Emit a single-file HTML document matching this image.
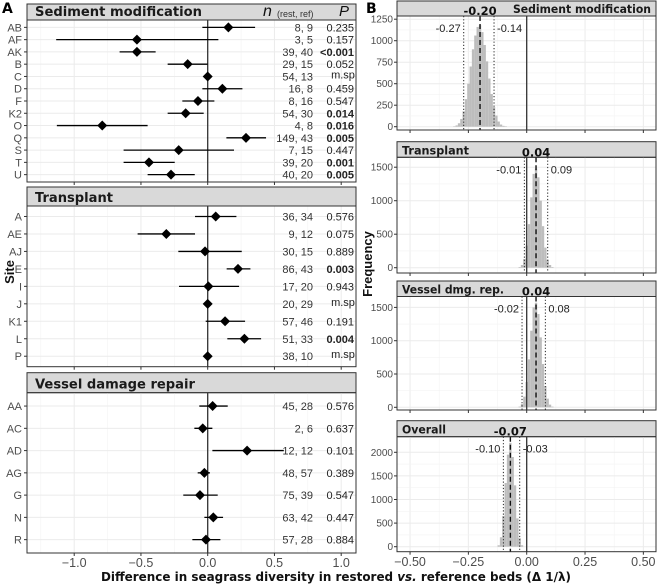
<!DOCTYPE html>
<html><head><meta charset="utf-8"><style>
body{margin:0;background:#fff}
svg{display:block;font-family:"Liberation Sans","DejaVu Sans",sans-serif}
.dv{font-family:"DejaVu Sans","Liberation Sans",sans-serif}
</style></head><body>
<svg id="c" width="657" height="585" viewBox="0 0 657 585" xmlns="http://www.w3.org/2000/svg"></svg>
<script>
// ---- Panel A data ----
const sedSites=["AB","AF","AK","B","C","D","F","K2","O","Q","S","T","U"];
const sedEst=[0.155,-0.53,-0.53,-0.15,0,0.11,-0.073,-0.165,-0.79,0.287,-0.217,-0.44,-0.275];
const sedLo=[-0.04,-1.135,-0.66,-0.30,null,-0.04,-0.19,-0.30,-1.13,0.14,-0.63,-0.63,-0.45];
const sedHi=[0.355,0.08,-0.39,0.0,null,0.26,0.05,-0.03,-0.45,0.437,0.197,-0.247,-0.097];
const sedN=["8,  9","3,  5","39, 40","29, 15","54, 13","16,  8","8, 16","54, 30","4,  8","149, 43","7, 15","39, 20","40, 20"];
const sedP=["0.235","0.157","<0.001","0.052","m.sp","0.459","0.547","0.014","0.016","0.005","0.447","0.001","0.005"];
const sedBold=[0,0,1,0,0,0,0,1,1,1,0,1,1];
const traSites=["A","AE","AJ","E","I","J","K1","L","P"];
const traEst=[0.06,-0.31,-0.02,0.227,0.005,0,0.13,0.275,0];
const traLo=[-0.095,-0.525,-0.22,0.142,-0.215,null,-0.015,0.147,null];
const traHi=[0.215,-0.095,0.255,0.32,0.235,null,0.28,0.40,null];
const traN=["36, 34","9, 12","30, 15","86, 43","17, 20","20, 29","57, 46","51, 33","38, 10"];
const traP=["0.576","0.075","0.889","0.003","0.943","m.sp","0.191","0.004","m.sp"];
const traBold=[0,0,0,1,0,0,0,1,0];
const vesSites=["AA","AC","AD","AG","G","N","R"];
const vesEst=[0.037,-0.037,0.295,-0.025,-0.058,0.042,-0.013];
const vesLo=[-0.063,-0.10,0.035,-0.075,-0.183,-0.025,-0.115];
const vesHi=[0.15,0.035,0.57,0.017,0.075,0.115,0.095];
const vesN=["45, 28","2,  6","12, 12","48, 57","75, 39","63, 42","57, 28"];
const vesP=["0.576","0.637","0.101","0.389","0.547","0.447","0.884"];
const vesBold=[0,0,0,0,0,0,0];
const xTicksA=[-1.0,-0.5,0.0,0.5,1.0];
const xTickLabelsA=["\u22121.0","\u22120.5","0.0","0.5","1.0"];
// ---- Panel B data (bin width 0.01) ----
const h1Start=-0.31;
const h1Counts=[5,15,40,90,180,320,500,700,900,1060,1160,1180,1100,950,760,560,380,230,130,60,25,10,5];
const h2Start=-0.03;
const h2Counts=[10,40,130,330,650,1050,1400,1480,1350,1000,620,300,120,40,10];
const h3Start=-0.03;
const h3Counts=[10,50,160,380,720,1150,1500,1570,1400,1050,650,320,130,40,10];
const h4Start=-0.12;
const h4Counts=[30,200,650,1350,1950,2200,1900,1300,600,180,30];
const hMeans=[-0.20,0.04,0.04,-0.07];
const hLo=[-0.27,-0.01,-0.02,-0.10];
const hHi=[-0.14,0.09,0.08,-0.03];
const hMeanLbl=["-0.20","0.04","0.04","-0.07"];
const hLoLbl=["-0.27","-0.01","-0.02","-0.10"];
const hHiLbl=["-0.14","0.09","0.08","-0.03"];
const xTicksB=[-0.5,-0.25,0,0.25,0.5];
const xTickLabelsB=["\u22120.50","\u22120.25","0.00","0.25","0.50"];

const svg=document.getElementById('c');
const NS="http://www.w3.org/2000/svg";
function el(t,a,txt){const e=document.createElementNS(NS,t);for(const k in a)e.setAttribute(k,a[k]);if(txt!==undefined)e.textContent=txt;svg.appendChild(e);return e;}

// ---- Panel A ----
const ax=v=>207.7+v*133.5;
const AX0=27,AX1=356;
const panelsA=[
 {title:"Sediment modification",tl:167,st:4,pt:20,pb:182,sites:sedSites,est:sedEst,lo:sedLo,hi:sedHi,n:sedN,p:sedP,b:sedBold,key:"sediment"},
 {title:"Transplant",tl:78,st:187,pt:206,pb:366.7,sites:traSites,est:traEst,lo:traLo,hi:traHi,n:traN,p:traP,b:traBold,key:"transplant"},
 {title:"Vessel damage repair",tl:160,st:372.7,pt:392.7,pb:553,sites:vesSites,est:vesEst,lo:vesLo,hi:vesHi,n:vesN,p:vesP,b:vesBold,key:"vessel"}];
panelsA.forEach((P,pi)=>{
 let r=el('rect',{x:AX0,y:P.st,width:AX1-AX0,height:P.pt-P.st,fill:'#d9d9d9',stroke:'#333','stroke-width':1});
 
 let t=el('text',{class:'dv',x:35,y:P.pt-4,'font-size':13,'font-weight':'bold',fill:'#1a1a1a',textLength:P.tl,lengthAdjust:'spacingAndGlyphs'},P.title);
 
 const step=(P.pb-P.pt)/(P.sites.length-1+1.2);
 const ry=i=>P.pt+(0.6+i)*step;
 [-1.25,-0.75,-0.25,0.25,0.75].forEach(v=>el('line',{x1:ax(v),x2:ax(v),y1:P.pt,y2:P.pb,stroke:'#f3f3f3','stroke-width':0.6}));
 xTicksA.forEach(v=>el('line',{x1:ax(v),x2:ax(v),y1:P.pt,y2:P.pb,stroke:'#ebebeb','stroke-width':1}));
 P.sites.forEach((s,i)=>{el('line',{x1:AX0,x2:AX1,y1:ry(i),y2:ry(i),stroke:'#ebebeb','stroke-width':1});});
 el('line',{x1:ax(0),x2:ax(0),y1:P.pt,y2:P.pb,stroke:'#333','stroke-width':1.3});
 P.sites.forEach((s,i)=>{
  const y=ry(i);
  el('line',{x1:AX0-3,x2:AX0,y1:y,y2:y,stroke:'#333'});
  let lb=el('text',{x:AX0-5,y:y+4,'font-size':11,fill:'#4d4d4d','text-anchor':'end'},s);
  
  if(P.lo[i]!==null){let e=el('line',{x1:ax(P.lo[i]),x2:ax(P.hi[i]),y1:y,y2:y,stroke:'#000','stroke-width':1.3});
   }
  const cx=ax(P.est[i]);
  let d=el('path',{d:`M${cx} ${y-5}L${cx+5} ${y}L${cx} ${y+5}L${cx-5} ${y}Z`,fill:'#000'});
  
  let nt=el('text',{x:313,y:y+4,'font-size':11,fill:'#333','text-anchor':'end','xml:space':'preserve'},P.n[i]);
  
  let pt=el('text',{x:P.p[i]==='m.sp'?343:354,y:y+(P.p[i]==='m.sp'?2:4),'font-size':11,fill:'#222','text-anchor':P.p[i]==='m.sp'?'middle':'end','font-weight':P.b[i]?'bold':'normal'},P.p[i]);
  
 });
 el('rect',{x:AX0,y:P.pt,width:AX1-AX0,height:P.pb-P.pt,fill:'none',stroke:'#333','stroke-width':1});
 xTicksA.forEach(v=>el('line',{x1:ax(v),x2:ax(v),y1:P.pb,y2:P.pb+3,stroke:'#333'}));
});
let hn=el('text',{x:263,y:16,'font-size':16,'font-style':'italic',fill:'#111'},'n');
el('text',{x:277,y:17,'font-size':9,fill:'#333'},'(rest, ref)');
let hp=el('text',{x:339,y:16,'font-size':15,'font-style':'italic',fill:'#111'},'P');
xTicksA.forEach((v,i)=>{let t=el('text',{x:ax(v),y:567,'font-size':12.5,fill:'#4d4d4d','text-anchor':'middle'},xTickLabelsA[i]);
 });
let st=el('text',{x:0,y:0,'font-size':13,'font-weight':'bold',fill:'#111','text-anchor':'middle',transform:'translate(14,272) rotate(-90)'},'Site');

let la=el('text',{class:'dv',x:2,y:13,'font-size':14,'font-weight':'bold'},'A');

// ---- Panel B ----
const bx=v=>526.7+v*233.3;
const BX0=397,BX1=656;
const panelsB=[
 {title:"Sediment modification",tl:138,right:true,st:1,pt:16,pb:130,y0:126.7,k:21.5/250,ticks:[0,250,500,750,1000,1250],counts:h1Counts,start:h1Start,key:"hist-sediment"},
 {title:"Transplant",tl:67,st:141.7,pt:157.3,pb:273,y0:267.7,k:33.5/500,ticks:[0,500,1000,1500],counts:h2Counts,start:h2Start,key:"hist-transplant"},
 {title:"Vessel dmg. rep.",tl:102,st:281,pt:296.5,pb:410,y0:407.3,k:33.3/500,ticks:[0,500,1000,1500],counts:h3Counts,start:h3Start,key:"hist-vessel"},
 {title:"Overall",tl:44,st:420.7,pt:436.7,pb:551.7,y0:546.7,k:23.6/500,ticks:[0,500,1000,1500,2000],counts:h4Counts,start:h4Start,key:"hist-overall"}];
panelsB.forEach((P,pi)=>{
 const yv=c=>P.y0-c*P.k;
 let r=el('rect',{x:BX0,y:P.st,width:BX1-BX0,height:P.pt-P.st,fill:'#d9d9d9',stroke:'#333','stroke-width':1});
 
 let t=el('text',{class:'dv',x:P.right?651-P.tl:402,y:P.pt-3,'font-size':11.5,'font-weight':'bold',fill:'#1a1a1a',textLength:P.tl,lengthAdjust:'spacingAndGlyphs'},P.title);
 
 [-0.375,-0.125,0.125,0.375].forEach(v=>el('line',{x1:bx(v),x2:bx(v),y1:P.pt,y2:P.pb,stroke:'#f3f3f3','stroke-width':0.6}));
 xTicksB.forEach(v=>el('line',{x1:bx(v),x2:bx(v),y1:P.pt,y2:P.pb,stroke:'#ebebeb'}));
 P.ticks.forEach((v,i)=>{
  el('line',{x1:BX0,x2:BX1,y1:yv(v),y2:yv(v),stroke:'#ebebeb'});
  if(i<P.ticks.length-1){const m=(v+P.ticks[i+1])/2;el('line',{x1:BX0,x2:BX1,y1:yv(m),y2:yv(m),stroke:'#f3f3f3','stroke-width':0.6});}
  el('line',{x1:BX0-3,x2:BX0,y1:yv(v),y2:yv(v),stroke:'#333'});
  let tl=el('text',{x:BX0-4,y:yv(v)+3.5,'font-size':10,fill:'#4d4d4d','text-anchor':'end'},String(v));
  
 });
 P.counts.forEach((c,i)=>{
  const x=bx(P.start+i*0.01-0.005);
  let b=el('rect',{x:x,y:yv(c),width:bx(0.01)-bx(0),height:P.y0-yv(c),fill:'#bdbdbd'});
  
 });
 el('line',{x1:bx(0),x2:bx(0),y1:P.pt,y2:P.pb,stroke:'#333','stroke-width':1.3});
 let mn=el('line',{x1:bx(hMeans[pi]),x2:bx(hMeans[pi]),y1:P.pt,y2:P.pb,stroke:'#111','stroke-width':1.4,'stroke-dasharray':'5,3'});
 
 [hLo[pi],hHi[pi]].forEach(v=>el('line',{x1:bx(v),x2:bx(v),y1:P.pt,y2:P.pb,stroke:'#222','stroke-width':1,'stroke-dasharray':'1.2,2'}));
 let ml=el('text',{class:'dv',x:bx(hMeans[pi]),y:P.pt-1,'font-size':11.5,'font-weight':'bold',fill:'#111','text-anchor':'middle'},hMeanLbl[pi]);
 
 let l1=el('text',{x:bx(hLo[pi])-3,y:P.pt+16,'font-size':11,fill:'#222','text-anchor':'end'},hLoLbl[pi]);
 
 let l2=el('text',{x:bx(hHi[pi])+3,y:P.pt+16,'font-size':11,fill:'#222'},hHiLbl[pi]);
 
 el('rect',{x:BX0,y:P.pt,width:BX1-BX0,height:P.pb-P.pt,fill:'none',stroke:'#333','stroke-width':1});
 xTicksB.forEach(v=>el('line',{x1:bx(v),x2:bx(v),y1:P.pb,y2:P.pb+3,stroke:'#333'}));
});
xTicksB.forEach((v,i)=>{let t=el('text',{x:bx(v),y:566,'font-size':12.5,fill:'#4d4d4d','text-anchor':'middle'},xTickLabelsB[i]);
 });
let fq=el('text',{x:0,y:0,'font-size':13,'font-weight':'bold',fill:'#111','text-anchor':'middle',transform:'translate(372,264) rotate(-90)'},'Frequency');

let lbb=el('text',{class:'dv',x:366,y:13,'font-size':14,'font-weight':'bold'},'B');
const xt=el('text',{class:'dv',x:101,y:581,'font-size':12.5,'font-weight':'bold',fill:'#111',textLength:470,lengthAdjust:'spacingAndGlyphs'});

xt.innerHTML='Difference in seagrass diversity in restored <tspan font-style="italic">vs.</tspan> reference beds (Δ 1/λ)';
</script>
</body></html>
